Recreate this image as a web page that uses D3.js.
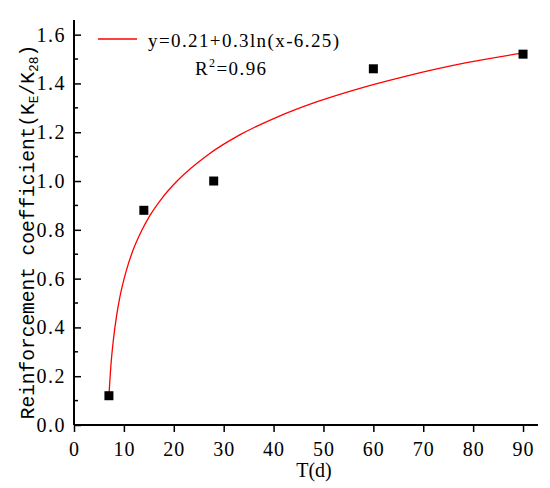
<!DOCTYPE html>
<html><head><meta charset="utf-8">
<script src="https://cdn.jsdelivr.net/npm/d3@7"></script>
<style>body{margin:0;background:#fff}svg{display:block}</style>
</head><body>
<script>
// Data
const days = [7, 14, 28, 60, 90];
const coeff = [0.12, 0.88, 1.00, 1.46, 1.52];
// Fitted curve, points
const fitX = [7.0, 7.4, 7.9, 8.5, 9.2, 10.5, 11.9, 13.5, 15.2, 17.5, 20.9, 26.6, 33.3, 40.6, 48.6, 58.0, 66.0, 78.7, 90.0];
const fitY = [0.12, 0.245, 0.35, 0.443, 0.525, 0.634, 0.72, 0.794, 0.858, 0.926, 1.005, 1.104, 1.19, 1.261, 1.324, 1.384, 1.427, 1.485, 1.525];
const xTicks = [0, 10, 20, 30, 40, 50, 60, 70, 80, 90];
const yTicks = [0.0, 0.2, 0.4, 0.6, 0.8, 1.0, 1.2, 1.4, 1.6];
const yMinor = [0.1, 0.3, 0.5, 0.7, 0.9, 1.1, 1.3, 1.5];
const legendText = "y=0.21+0.3ln(x-6.25)";

const W = 550, H = 488;
const svg = d3.select("body").append("svg").attr("width", W).attr("height", H);
const x = d3.scaleLinear().domain([0, 93]).range([74, 538]);
const y = d3.scaleLinear().domain([0, 1.66]).range([425, 20]);

const serif = "'Liberation Serif', 'Times New Roman', serif";
const mono = "'Liberation Mono', 'Courier New', monospace";

// X axis
const gx = svg.append("g").attr("transform", `translate(0,${y(0)})`)
  .call(d3.axisBottom(x).tickValues(xTicks).tickFormat(d3.format("d")).tickSize(7).tickPadding(10));
gx.attr("font-family", null).attr("font-size", null);
gx.select(".domain").attr("stroke", "#000").attr("stroke-width", 2).attr("d", `M${x(0)},0H${x(93)}`);
gx.selectAll(".tick line").attr("stroke-width", 1.5);
gx.selectAll(".tick text").style("font-family", serif).style("font-size", "20px").style("letter-spacing", "1px").attr("fill", "#000");

// Y axis (ticks inward)
const gy = svg.append("g").attr("transform", `translate(${x(0)},0)`)
  .call(d3.axisLeft(y).tickValues(yTicks).tickFormat(d3.format(".1f")).tickSize(0).tickPadding(8));
gy.attr("font-family", null).attr("font-size", null);
gy.select(".domain").attr("stroke", "#000").attr("stroke-width", 2).attr("d", `M0,${y(0)}V${y(1.66)}`);
gy.selectAll(".tick text").style("font-family", serif).style("font-size", "20px").style("letter-spacing", "1.5px").attr("fill", "#000");
gy.selectAll(".tick").append("line").attr("x1", 0).attr("x2", 7).attr("stroke", "#000").attr("stroke-width", 1.5);
gy.selectAll(".minor").data(yMinor).enter().append("line")
  .attr("x1", 0).attr("x2", 4).attr("y1", d => y(d)).attr("y2", d => y(d))
  .attr("stroke", "#000").attr("stroke-width", 1.5);

// Axis titles
svg.append("text").attr("x", 314).attr("y", 477).attr("text-anchor", "middle")
  .style("font-family", serif).style("font-size", "20px").text("T(d)");

const yt = svg.append("text").attr("transform", `translate(34,232) rotate(-90)`)
  .attr("text-anchor", "middle").style("font-family", mono).style("font-size", "19.5px");
yt.append("tspan").text("Reinforcement coefficient(K");
yt.append("tspan").style("font-size", "13px").attr("dy", 4).text("E");
yt.append("tspan").attr("dy", -4).text("/K");
yt.append("tspan").style("font-size", "13px").attr("dy", 4).text("28");
yt.append("tspan").attr("dy", -4).text(")");

// Fitted curve
const pts = fitX.map((d, i) => [d, fitY[i]]);
svg.append("path").datum(pts)
  .attr("d", d3.line().x(d => x(d[0])).y(d => y(d[1])).curve(d3.curveMonotoneX))
  .attr("fill", "none").attr("stroke", "#ff0000").attr("stroke-width", 1.3);

// Points
const s = 9;
svg.selectAll(".pt").data(days).enter().append("rect")
  .attr("x", (d) => x(d) - s / 2).attr("y", (d, i) => y(coeff[i]) - s / 2)
  .attr("width", s).attr("height", s).attr("fill", "#000");

// Legend
svg.append("line").attr("x1", 98).attr("x2", 137).attr("y1", 39).attr("y2", 39)
  .attr("stroke", "#ff0000").attr("stroke-width", 1.3);
svg.append("text").attr("x", 148).attr("y", 47).style("font-family", serif).style("font-size", "19px")
  .style("letter-spacing", "1.4px").text(legendText);
const r2 = svg.append("text").attr("x", 195).attr("y", 75).style("font-family", serif).style("font-size", "19px").style("letter-spacing", "1.4px");
r2.append("tspan").text("R");
r2.append("tspan").style("font-size", "12px").attr("dy", -8).text("2");
r2.append("tspan").attr("dy", 8).text("=0.96");
</script>
</body></html>
